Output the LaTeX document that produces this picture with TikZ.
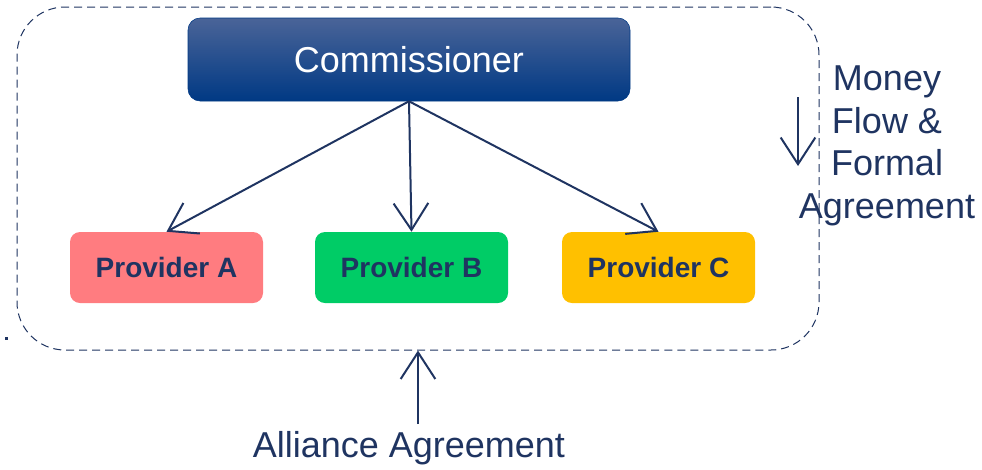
\documentclass[tikz,border=0pt]{standalone}
\usepackage{fontspec}
\setmainfont{Liberation Sans}
\usepackage{tikz}
\usetikzlibrary{arrows.meta}
\definecolor{navy}{HTML}{1F3461}
\definecolor{commtop}{HTML}{4A6498}
\definecolor{commbot}{HTML}{003984}
\definecolor{provA}{HTML}{FF7C80}
\definecolor{provB}{HTML}{00CC66}
\definecolor{provC}{HTML}{FFC000}
\newcommand{\arw}{-{Straight Barb[length=20pt,width=26pt]}}

\begin{document}
\begin{tikzpicture}[x=.75pt,y=-.75pt,
  prov/.style={rounded corners=7.5pt,minimum width=144.75pt,minimum height=53.25pt,
    inner sep=0pt,text=navy,font=\fontsize{21}{25}\selectfont\bfseries},
  comm/.style={rounded corners=9pt,minimum width=331.5pt,minimum height=62.25pt,
    inner sep=0pt,draw=commbot,top color=commtop,middle color=commbot,bottom color=commbot,
    text=white,font=\fontsize{27}{32}\selectfont},
  lbl/.style={text=navy,inner sep=0pt,font=\fontsize{27}{32}\selectfont}]
\useasboundingbox (0,0) rectangle (982,469);
%alliance boundary
\node[draw=navy,line width=.75pt,dash pattern=on 6pt off 3.75pt,rounded corners=36pt,
  minimum width=601.5pt,minimum height=257.25pt,inner sep=0pt] (alliance) at (418,178.5) {};
%commissioner and providers
\node[comm] (comm) at (409,59.5) {Commissioner};
\node[prov,fill=provA] (pa) at (166.5,267.5) {Provider A};
\node[prov,fill=provB] (pb) at (411.5,267.5) {Provider B};
\node[prov,fill=provC] (pc) at (658.5,267.5) {Provider C};
\draw[navy,line width=1.5pt,\arw] (comm.south) -- (pa.north);
\draw[navy,line width=1.5pt,\arw] (comm.south) -- (pb.north);
\draw[navy,line width=1.5pt,\arw] (comm.south) -- (pc.north);
%money flow
\coordinate (mtop) at (798,97);
\coordinate (mbot) at (798,166);
\draw[navy,line width=1.5pt,\arw] (mtop) -- (mbot);
\node[lbl,align=center] (money) at (887,146) {Money\\Flow \&\\Formal\\Agreement};
%alliance agreement
\coordinate (aa) at (418,424);
\draw[navy,line width=1.5pt,\arw] (aa) -- (alliance.south);
\node[lbl] (aatext) at (409,448) {Alliance Agreement};
\fill[navy] (4.5,336.5) rectangle (7.5,339.5);
\end{tikzpicture}
\end{document}
